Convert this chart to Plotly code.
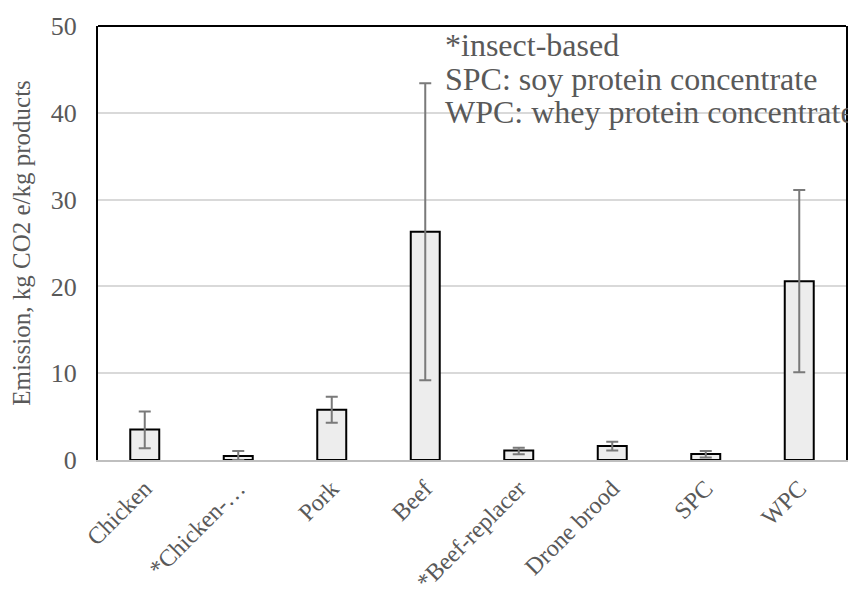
import plotly.graph_objects as go

categories = ["Chicken", "*Chicken-…", "Pork", "Beef", "*Beef-replacer", "Drone brood", "SPC", "WPC"]
values = [3.5, 0.45, 5.8, 26.3, 1.1, 1.6, 0.7, 20.6]
err_plus = [2.1, 0.6, 1.5, 17.1, 0.3, 0.5, 0.35, 10.5]
err_minus = [2.15, 0.45, 1.5, 17.1, 0.45, 0.5, 0.4, 10.5]
y_ticks = [0, 10, 20, 30, 40, 50]
notes = ["*insect-based", "SPC: soy protein concentrate", "WPC: whey protein concentrate"]

FONT = "Liberation Serif"
GRAY = "#595959"

fig = go.Figure(go.Bar(
    x=categories, y=values,
    marker=dict(color="#ededed", line=dict(color="black", width=2)),
    error_y=dict(type="data", symmetric=False, array=err_plus, arrayminus=err_minus,
                 color="#7a7a7a", thickness=2, width=6),
))

# the page body has an 8px default margin, so the figure is drawn 8px right/down
fig.update_layout(
    width=848, height=591,
    margin=dict(l=90, r=10, t=18, b=139, autoexpand=False),
    paper_bgcolor="white", plot_bgcolor="white",
    bargap=0.69, showlegend=False,
    font=dict(family=FONT, color=GRAY),
    xaxis=dict(tickangle=-45, tickfont=dict(size=24, color=GRAY, family=FONT),
               showline=True, linecolor="#bfbfbf", linewidth=2,
               ticks="outside", ticklen=3, tickcolor="rgba(0,0,0,0)",
               showgrid=False, automargin=False),
    yaxis=dict(range=[0, 50], tickvals=y_ticks, tickfont=dict(size=26, color=GRAY, family=FONT),
               showgrid=True, gridcolor="#d9d9d9", gridwidth=2,
               showline=True, linecolor="black", linewidth=2, mirror=True,
               ticks="outside", ticklen=14, tickcolor="rgba(0,0,0,0)",
               zeroline=False, automargin=False,
               title=dict(text="Emission, kg CO2 e/kg products", font=dict(size=25, color=GRAY, family=FONT),
                          standoff=14)),
)
fig.add_shape(type="line", xref="paper", yref="paper", x0=0, x1=1, y0=1, y1=1,
              line=dict(color="black", width=2))

ys = [45, 79, 112]
for t, yp in zip(notes, ys):
    fig.add_annotation(text=t, xref="paper", yref="paper",
                       x=(443 - 98) / 748, y=1 - (yp - 26) / 434,
                       xanchor="left", yanchor="middle", showarrow=False,
                       font=dict(size=32, color=GRAY, family=FONT))

fig.write_html("out.html")
